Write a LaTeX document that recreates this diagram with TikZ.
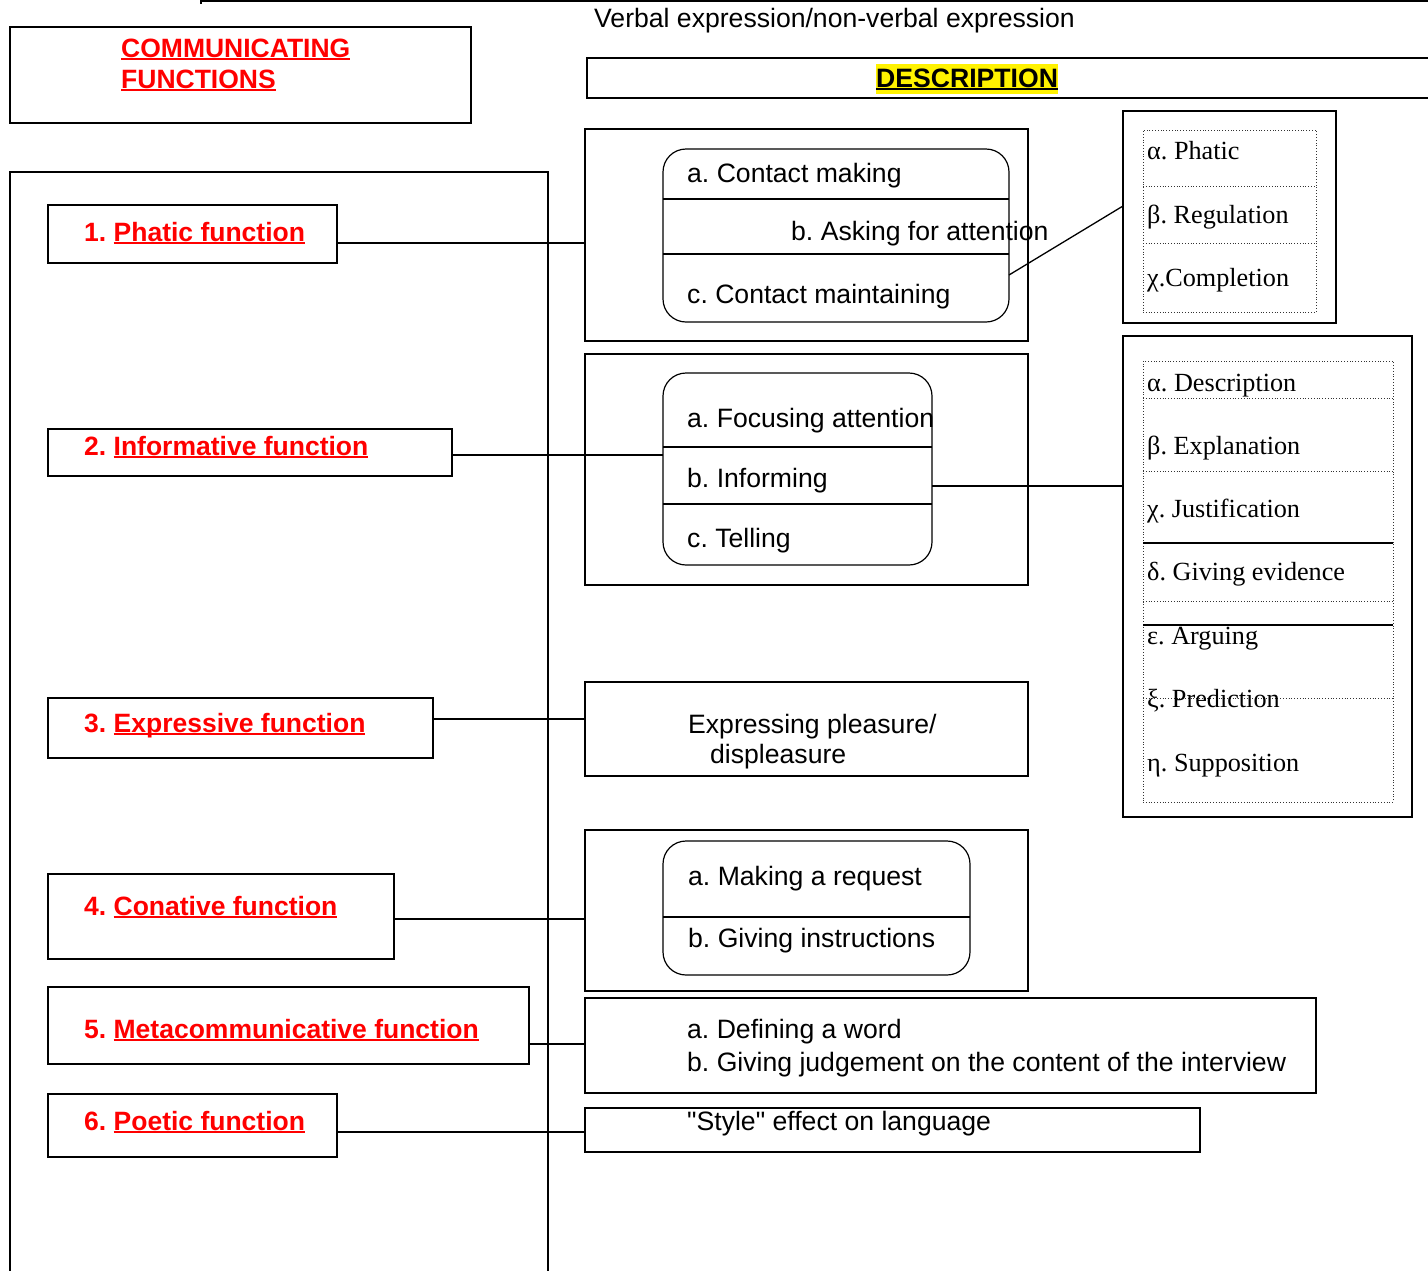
\documentclass[tikz,border=0pt]{standalone}
\usepackage{fontspec}
\setmainfont{Liberation Sans}[Ligatures=TeXOff]
\newfontfamily\greekserif{Liberation Serif}
\frenchspacing

% underline drawn as a rule below the text, in the text colour
\newcommand\ulfn[1]{\setbox0=\hbox{#1}\rlap{\rule[-3.2pt]{\wd0}{1.9pt}}\box0}

\tikzset{
  x=1pt, y=-1pt,
  frame/.style={draw, line width=1.8pt, inner sep=0pt, outer sep=0pt, anchor=north west},
  descbox/.style={draw, line width=1.4pt, inner sep=0pt, outer sep=0pt, anchor=north west},
  roundbox/.style={draw, line width=1.2pt, rounded corners=23pt, inner sep=0pt, outer sep=0pt, anchor=north west},
  greekouter/.style={draw, line width=1.4pt, inner sep=0pt, outer sep=0pt, anchor=north west},
  greekinner/.style={draw=black!80, dotted, line width=0.8pt, inner sep=0pt, outer sep=0pt, anchor=north west},
  divider/.style={line width=1.2pt},
  dotdiv/.style={draw=black!80, dotted, line width=0.8pt},
  link/.style={line width=1.3pt},
  fnlabel/.style={anchor=base west, inner sep=0pt, text=red, font=\fontsize{26.5}{30}\selectfont\bfseries},
  item/.style={anchor=base west, inner sep=0pt, font=\fontsize{26.6}{30}\selectfont},
  gitem/.style={anchor=base west, inner sep=0pt, font=\greekserif\fontsize{26.2}{30}\selectfont},
}

\begin{document}
\begin{tikzpicture}
\useasboundingbox (0,0) rectangle (1428,1270);
\clip (0,0) rectangle (1428,1270);

% page frame corner at the top
\draw[line width=1.5pt] (201,4) -- (201,1) -- (1440,1);

% title box
\node[frame, minimum width=461pt, minimum height=96pt] (title) at (10,27) {};
\node[fnlabel] (title1) at (121,57) {\ulfn{COMMUNICATING}};
\node[fnlabel] (title2) at (121,88) {\ulfn{FUNCTIONS}};

% heading on the right
\node[item] (verbal) at (594,27) {Verbal expression/non-verbal expression};
\node[descbox, minimum width=900pt, minimum height=40pt] (head) at (587,58) {};
\node[anchor=base west, inner xsep=0pt, inner ysep=0pt, text height=23pt, text depth=7pt,
      fill=yellow, font=\fontsize{26.6}{30}\selectfont\bfseries] (desc) at (876,87) {\ulfn{DESCRIPTION}};

% column holding the functions
\node[frame, minimum width=538pt, minimum height=1130pt] (column) at (10,172) {};

% function boxes
\node[frame, minimum width=289pt, minimum height=58pt] (f1) at (48,205) {};
\node[fnlabel] (f1t) at (84,241) {1. \ulfn{Phatic function}};
\node[frame, minimum width=404pt, minimum height=47pt] (f2) at (48,429) {};
\node[fnlabel] (f2t) at (84,455) {2. \ulfn{Informative function}};
\node[frame, minimum width=385pt, minimum height=60pt] (f3) at (48,698) {};
\node[fnlabel] (f3t) at (84,732) {3. \ulfn{Expressive function}};
\node[frame, minimum width=346pt, minimum height=85pt] (f4) at (48,874) {};
\node[fnlabel] (f4t) at (84,915) {4. \ulfn{Conative function}};
\node[frame, minimum width=481pt, minimum height=77pt] (f5) at (48,987) {};
\node[fnlabel] (f5t) at (84,1038) {5. \ulfn{Metacommunicative function}};
\node[frame, minimum width=289pt, minimum height=63pt] (f6) at (48,1094) {};
\node[fnlabel] (f6t) at (84,1130) {6. \ulfn{Poetic function}};

% 1. phatic: description
\node[descbox, minimum width=443pt, minimum height=212pt] (d1) at (585,129) {};
\node[roundbox, minimum width=346pt, minimum height=173pt] (r1) at (663,149) {};
\draw[divider] (r1.west |- 0,199) -- (r1.east |- 0,199);
\draw[divider] (r1.west |- 0,254) -- (r1.east |- 0,254);
\node[item] (r1a) at (687,182) {a. Contact making};
\node[item] (r1b) at (791,240) {b. Asking for attention};
\node[item] (r1c) at (687,303) {c. Contact maintaining};

% 1. phatic: sub-types
\node[greekouter, minimum width=213pt, minimum height=212pt] (g1) at (1123,111) {};
\node[greekinner, minimum width=173pt, minimum height=182pt] (g1i) at (1143,130) {};
\draw[dotdiv] (g1i.west |- 0,186) -- (g1i.east |- 0,186);
\draw[dotdiv] (g1i.west |- 0,243) -- (g1i.east |- 0,243);
\node[gitem] (g1a) at (1147,159) {α. Phatic};
\node[gitem] (g1b) at (1147,223) {β. Regulation};
\node[gitem] (g1c) at (1147,286) {χ.Completion};

% 2. informative: description
\node[descbox, minimum width=443pt, minimum height=231pt] (d2) at (585,354) {};
\node[roundbox, minimum width=269pt, minimum height=192pt] (r2) at (663,373) {};
\draw[divider] (r2.west |- 0,447) -- (r2.east |- 0,447);
\draw[divider] (r2.west |- 0,504) -- (r2.east |- 0,504);
\node[item] (r2a) at (687,427) {a. Focusing attention};
\node[item] (r2b) at (687,487) {b. Informing};
\node[item] (r2c) at (687,547) {c. Telling};

% 2. informative: sub-types
\node[greekouter, minimum width=289pt, minimum height=481pt] (g2) at (1123,336) {};
\node[greekinner, minimum width=250pt, minimum height=441pt] (g2i) at (1143,361) {};
\draw[dotdiv] (g2i.west |- 0,398) -- (g2i.east |- 0,398);
\draw[dotdiv] (g2i.west |- 0,471) -- (g2i.east |- 0,471);
\draw[divider] (g2i.west |- 0,543) -- (g2i.east |- 0,543);
\draw[dotdiv] (g2i.west |- 0,601) -- (g2i.east |- 0,601);
\draw[divider] (g2i.west |- 0,625) -- (g2i.east |- 0,625);
\draw[dotdiv] (g2i.west |- 0,698) -- (g2i.east |- 0,698);
\node[gitem] (g2a) at (1147,391) {α. Description};
\node[gitem] (g2b) at (1147,454) {β. Explanation};
\node[gitem] (g2c) at (1147,517) {χ. Justification};
\node[gitem] (g2d) at (1147,580) {δ. Giving evidence};
\node[gitem] (g2e) at (1147,644) {ε. Arguing};
\node[gitem] (g2f) at (1147,707) {ξ. Prediction};
\node[gitem] (g2g) at (1147,771) {η. Supposition};

% 3. expressive
\node[descbox, minimum width=443pt, minimum height=94pt] (d3) at (585,682) {};
\node[item] (d3a) at (688,733) {Expressing pleasure/};
\node[item] (d3b) at (710,763) {displeasure};

% 4. conative
\node[descbox, minimum width=443pt, minimum height=161pt] (d4) at (585,830) {};
\node[roundbox, minimum width=307pt, minimum height=134pt] (r4) at (663,841) {};
\draw[divider] (r4.west |- 0,917) -- (r4.east |- 0,917);
\node[item] (r4a) at (688,885) {a. Making a request};
\node[item] (r4b) at (688,947) {b. Giving instructions};

% 5. metacommunicative
\node[descbox, minimum width=731pt, minimum height=95pt] (d5) at (585,998) {};
\node[item] (d5a) at (687,1038) {a. Defining a word};
\node[item] (d5b) at (687,1071) {b. Giving judgement on the content of the interview};

% 6. poetic
\node[descbox, minimum width=615pt, minimum height=44pt] (d6) at (585,1108) {};
\node[item] (d6a) at (687,1130) {"Style" effect on language};

% connectors
\draw[link] (f1.east |- 0,243) -- (d1.west |- 0,243);
\draw[link] (r1.east |- 0,275) -- (g1.west |- 0,206);
\draw[link] (f2.east |- 0,455) -- (r2.west |- 0,455);
\draw[link] (r2.east |- 0,486) -- (g2.west |- 0,486);
\draw[link] (f3.east |- 0,719) -- (d3.west |- 0,719);
\draw[link] (f4.east |- 0,919) -- (d4.west |- 0,919);
\draw[link] (f5.east |- 0,1044) -- (d5.west |- 0,1044);
\draw[link] (f6.east |- 0,1132) -- (d6.west |- 0,1132);
\end{tikzpicture}
\end{document}
